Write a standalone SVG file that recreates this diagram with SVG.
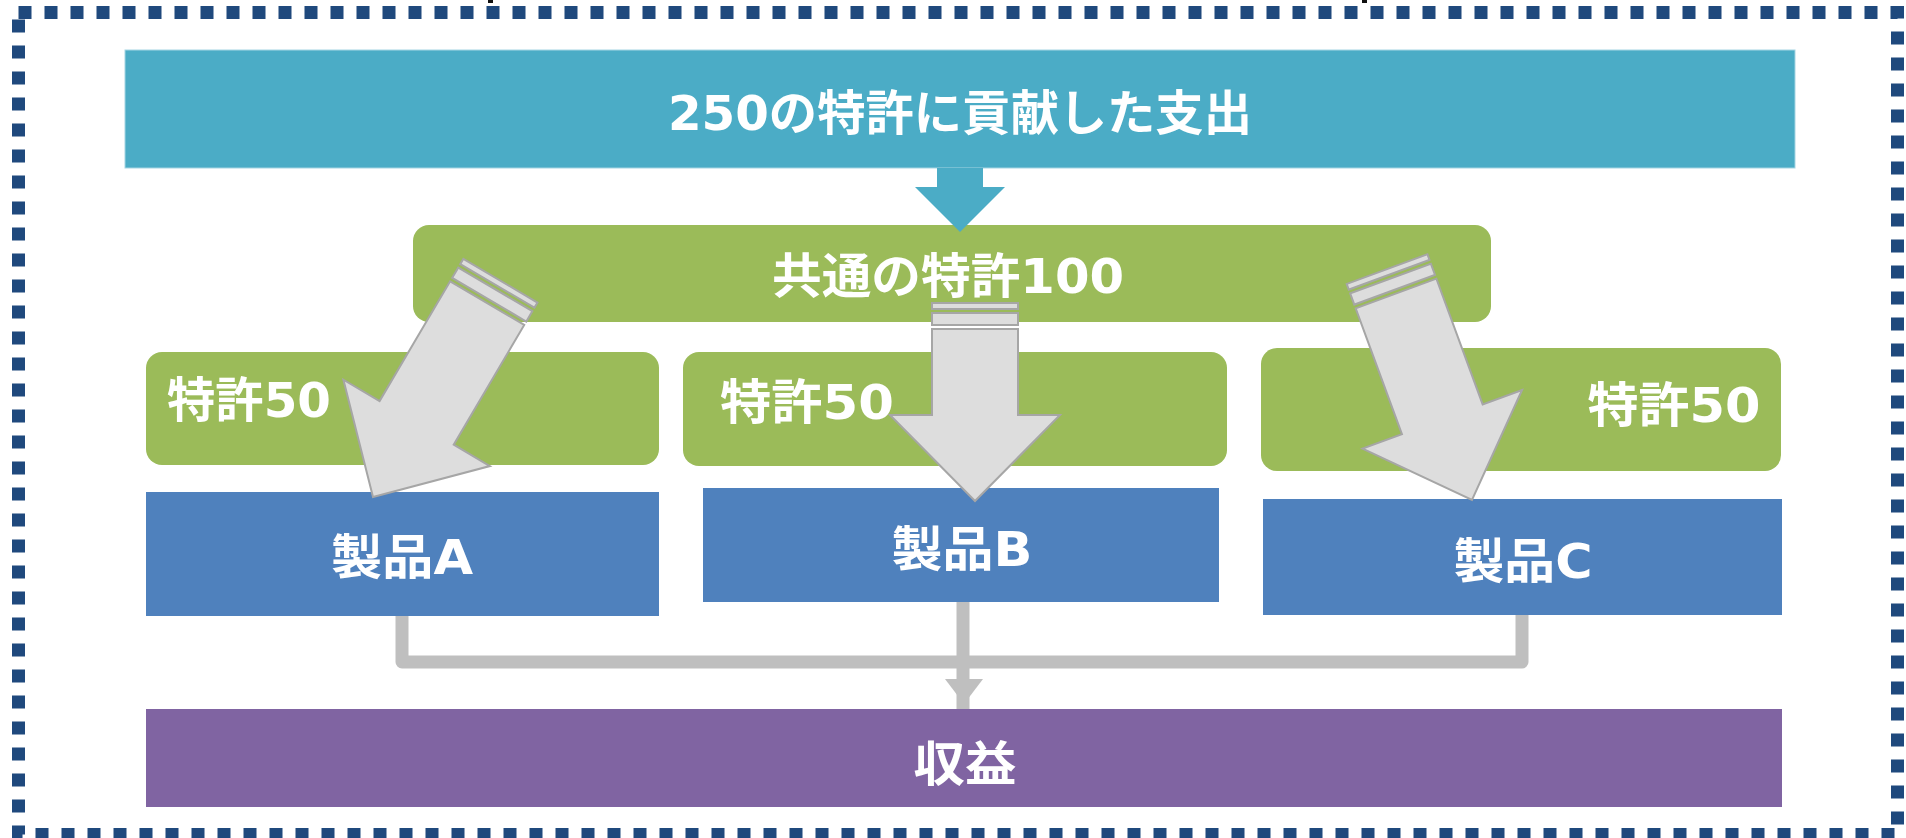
<svg xmlns="http://www.w3.org/2000/svg" width="1906" height="838" viewBox="0 0 1906 838">
<style>
.t{font-family:"DejaVu Sans","Noto Sans CJK JP",sans-serif;font-weight:bold;fill:#FFFFFF;font-size:48px;text-anchor:middle}
.green{fill:#9BBB59}
.blue{fill:#4F81BD}
.garrow{fill:#DDDDDD;stroke:#A6A6A6;stroke-width:2;stroke-linejoin:miter}
.conn{fill:none;stroke:#BFBFBF;stroke-width:13;stroke-linejoin:round}
</style>
<rect x="0" y="0" width="1906" height="838" fill="#FFFFFF"/>
<g id="frame">
<rect x="18.5" y="12.5" width="1879" height="822" fill="none" stroke="#1F497D" stroke-width="13" stroke-dasharray="13 13"/>
<rect x="488" y="0" width="5" height="3" fill="#111111"/>
<rect x="1362" y="0" width="5" height="3" fill="#111111"/>
</g>
<g id="title">
<rect x="125" y="50" width="1670" height="118" fill="#4BACC6" stroke="#A5D5E3" stroke-width="1"/>
<text class="t" x="960" y="130" textLength="584" lengthAdjust="spacingAndGlyphs">250の特許に貢献した支出</text>
</g>
<g id="common">
<rect class="green" x="413" y="225" width="1078" height="97" rx="16"/>
<text class="t" x="948" y="293" textLength="352" lengthAdjust="spacingAndGlyphs">共通の特許100</text>
</g>
<g id="patent1">
<rect class="green" x="146" y="352" width="513" height="113" rx="16"/>
<text class="t" x="249" y="417" textLength="164" lengthAdjust="spacingAndGlyphs">特許50</text>
</g>
<g id="patent2">
<rect class="green" x="683" y="352" width="544" height="114" rx="16"/>
<text class="t" x="807" y="419" textLength="174" lengthAdjust="spacingAndGlyphs">特許50</text>
</g>
<g id="patent3">
<rect class="green" x="1261" y="348" width="520" height="123" rx="16"/>
<text class="t" x="1674" y="422" textLength="173" lengthAdjust="spacingAndGlyphs">特許50</text>
</g>
<g id="productA">
<rect class="blue" x="146" y="492" width="513" height="124"/>
<text class="t" x="402" y="574" textLength="142" lengthAdjust="spacingAndGlyphs">製品A</text>
</g>
<g id="productB">
<rect class="blue" x="703" y="488" width="516" height="114"/>
<text class="t" x="962" y="566" textLength="141" lengthAdjust="spacingAndGlyphs">製品B</text>
</g>
<g id="productC">
<rect class="blue" x="1263" y="499" width="519" height="116"/>
<text class="t" x="1523" y="578" textLength="139" lengthAdjust="spacingAndGlyphs">製品C</text>
</g>
<g id="revenue">
<rect x="146" y="709" width="1636" height="98" fill="#8064A2"/>
<text class="t" x="965" y="781" textLength="103" lengthAdjust="spacingAndGlyphs">収益</text>
</g>
<g id="connectors">
<polygon points="937,168 983,168 983,187 1005,187 960,232 915,187 937,187" fill="#4BACC6"/>
<g transform="translate(373,497) rotate(30.5)">
<path class="garrow" d="M-43,-225 L43,-225 L43,-86 L85,-86 L0,0 L-85,-86 L-43,-86 Z"/>
<rect class="garrow" x="-43" y="-241" width="86" height="12"/>
<rect class="garrow" x="-43" y="-251" width="86" height="6"/>
</g>
<g transform="translate(975,501)">
<path class="garrow" d="M-43,-172 L43,-172 L43,-86 L85,-86 L0,0 L-85,-86 L-43,-86 Z"/>
<rect class="garrow" x="-43" y="-188" width="86" height="12"/>
<rect class="garrow" x="-43" y="-198" width="86" height="6"/>
</g>
<g transform="translate(1472,500) rotate(-20.2)">
<path class="garrow" d="M-43,-220 L43,-220 L43,-86 L85,-86 L0,0 L-85,-86 L-43,-86 Z"/>
<rect class="garrow" x="-43" y="-236" width="86" height="12"/>
<rect class="garrow" x="-43" y="-246" width="86" height="6"/>
</g>
<path class="conn" d="M402,616 L402,662 L1522,662 L1522,615"/>
<line x1="963" y1="602" x2="963" y2="709" stroke="#BFBFBF" stroke-width="13"/>
<polygon points="945,679 983,679 964,704" fill="#BFBFBF"/>
</g>
</svg>
